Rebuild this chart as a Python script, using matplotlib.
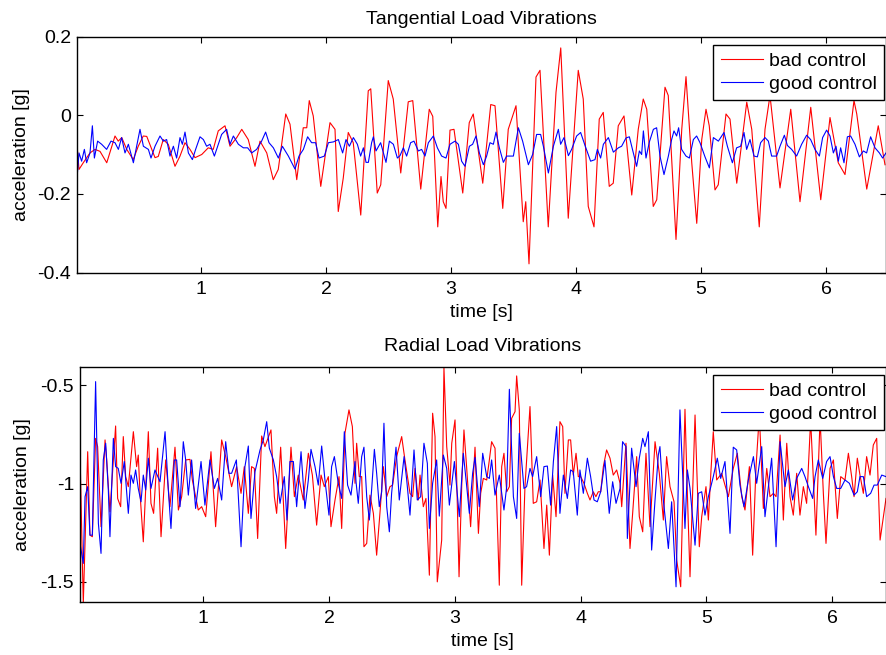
import matplotlib
matplotlib.use("Agg")
import matplotlib.pyplot as plt

plt.rcParams['font.family'] = ['Liberation Sans', 'DejaVu Sans']
plt.rcParams['font.size'] = 14
plt.rcParams['axes.unicode_minus'] = False

# ---- tangential load (time [s], acceleration [g]) ----
tang_bad_t = [0.006, 0.024, 0.058, 0.112, 0.152, 0.192, 0.246, 0.312, 0.338, 0.366,
              0.406, 0.458, 0.498, 0.538, 0.566, 0.632, 0.658, 0.698, 0.738, 0.792,
              0.832, 0.872, 0.912, 0.952, 1.006, 1.058, 1.098, 1.138, 1.192, 1.232,
              1.286, 1.326, 1.378, 1.432, 1.472, 1.526, 1.578, 1.618, 1.678, 1.712,
              1.766, 1.818, 1.846, 1.866, 1.898, 1.958, 2.032, 2.072, 2.098, 2.138,
              2.178, 2.218, 2.278, 2.338, 2.358, 2.410, 2.438, 2.498, 2.538, 2.598,
              2.658, 2.694, 2.758, 2.826, 2.854, 2.894, 2.920, 2.938, 2.960, 2.992,
              3.024, 3.094, 3.146, 3.178, 3.254, 3.318, 3.352, 3.414, 3.458, 3.520,
              3.578, 3.598, 3.624, 3.680, 3.712, 3.778, 3.840, 3.878, 3.938, 4.018,
              4.058, 4.098, 4.144, 4.186, 4.218, 4.266, 4.298, 4.338, 4.384, 4.446,
              4.498, 4.538, 4.566, 4.618, 4.646, 4.712, 4.738, 4.800, 4.846, 4.880,
              4.926, 4.966, 5.006, 5.040, 5.066, 5.112, 5.138, 5.200, 5.232, 5.286,
              5.366, 5.406, 5.466, 5.512, 5.552, 5.632, 5.718, 5.792, 5.878, 5.958,
              6.032, 6.098, 6.152, 6.224, 6.246, 6.326, 6.418, 6.472]
tang_bad = [-0.066, -0.138, -0.121, -0.096, -0.087, -0.092, -0.121, -0.053, -0.066, -0.057,
            -0.087, -0.113, -0.079, -0.053, -0.054, -0.108, -0.105, -0.062, -0.074, -0.130,
            -0.104, -0.070, -0.087, -0.108, -0.100, -0.083, -0.087, -0.040, -0.027, -0.079,
            -0.057, -0.036, -0.062, -0.130, -0.066, -0.096, -0.164, -0.138, 0.003, -0.023,
            -0.164, -0.032, -0.032, 0.037, -0.002, -0.181, -0.019, -0.036, -0.245, -0.160,
            -0.044, -0.070, -0.254, 0.062, 0.067, -0.198, -0.177, 0.088, 0.041, -0.147,
            0.034, 0.037, -0.188, 0.015, -0.003, -0.284, -0.156, -0.220, -0.237, -0.038,
            -0.036, -0.198, -0.019, 0.003, -0.173, 0.027, 0.024, -0.237, -0.036, 0.024,
            -0.271, -0.220, -0.378, 0.097, 0.114, -0.284, 0.058, 0.171, -0.262, 0.114,
            0.041, -0.232, -0.284, -0.010, 0.007, -0.181, -0.173, -0.027, -0.002, -0.203,
            -0.036, 0.041, 0.015, -0.232, -0.215, 0.071, 0.050, -0.316, -0.036, 0.098,
            -0.121, -0.275, -0.062, 0.015, -0.027, -0.190, -0.177, 0.003, -0.010, -0.173,
            0.033, -0.036, -0.284, -0.036, 0.050, -0.185, 0.015, -0.220, 0.020, -0.215,
            -0.006, -0.121, -0.151, 0.037, 0.003, -0.188, -0.027, -0.126]

tang_good_t = [0.005, 0.024, 0.045, 0.067, 0.085, 0.112, 0.131, 0.147, 0.173, 0.205,
               0.245, 0.280, 0.312, 0.339, 0.365, 0.392, 0.419, 0.459, 0.485, 0.512,
               0.539, 0.579, 0.600, 0.632, 0.672, 0.699, 0.725, 0.752, 0.779, 0.805,
               0.832, 0.851, 0.872, 0.899, 0.931, 0.957, 0.992, 1.019, 1.045, 1.072,
               1.107, 1.139, 1.165, 1.205, 1.232, 1.259, 1.299, 1.339, 1.373, 1.405,
               1.445, 1.485, 1.517, 1.544, 1.579, 1.619, 1.651, 1.699, 1.752, 1.784,
               1.819, 1.853, 1.885, 1.917, 1.944, 1.987, 2.019, 2.059, 2.099, 2.133,
               2.160, 2.187, 2.219, 2.251, 2.277, 2.299, 2.320, 2.339, 2.365, 2.379,
               2.400, 2.437, 2.480, 2.507, 2.539, 2.571, 2.592, 2.619, 2.645, 2.677,
               2.704, 2.739, 2.765, 2.792, 2.819, 2.859, 2.891, 2.925, 2.960, 2.992,
               3.032, 3.059, 3.085, 3.112, 3.147, 3.173, 3.200, 3.227, 3.259, 3.285,
               3.312, 3.339, 3.360, 3.387, 3.419, 3.445, 3.499, 3.539, 3.573, 3.619,
               3.653, 3.685, 3.717, 3.739, 3.779, 3.819, 3.859, 3.877, 3.904, 3.939,
               3.965, 4.005, 4.037, 4.072, 4.117, 4.152, 4.171, 4.197, 4.219, 4.259,
               4.299, 4.339, 4.365, 4.400, 4.427, 4.459, 4.485, 4.507, 4.525, 4.539,
               4.560, 4.587, 4.619, 4.645, 4.672, 4.704, 4.739, 4.765, 4.784, 4.805,
               4.821, 4.845, 4.880, 4.907, 4.939, 4.965, 4.992, 5.032, 5.067, 5.099,
               5.139, 5.184, 5.211, 5.251, 5.285, 5.317, 5.344, 5.365, 5.392, 5.424,
               5.451, 5.477, 5.512, 5.539, 5.565, 5.605, 5.632, 5.667, 5.691, 5.725,
               5.765, 5.805, 5.845, 5.877, 5.912, 5.947, 5.973, 6.005, 6.032, 6.059,
               6.080, 6.099, 6.117, 6.144, 6.171, 6.197, 6.232, 6.267, 6.299, 6.325,
               6.357, 6.392, 6.427, 6.453, 6.480]
tang_good = [-0.173, -0.096, -0.117, -0.087, -0.121, -0.096, -0.027, -0.109, -0.066, -0.074,
             -0.087, -0.066, -0.070, -0.087, -0.057, -0.096, -0.074, -0.121, -0.079, -0.036,
             -0.079, -0.087, -0.109, -0.079, -0.053, -0.066, -0.062, -0.104, -0.079, -0.109,
             -0.057, -0.074, -0.043, -0.096, -0.113, -0.087, -0.055, -0.062, -0.079, -0.074,
             -0.104, -0.074, -0.049, -0.036, -0.074, -0.053, -0.074, -0.083, -0.083, -0.096,
             -0.087, -0.066, -0.043, -0.070, -0.083, -0.109, -0.079, -0.104, -0.137, -0.104,
             -0.087, -0.055, -0.070, -0.070, -0.109, -0.104, -0.070, -0.068, -0.062, -0.096,
             -0.062, -0.079, -0.057, -0.074, -0.104, -0.083, -0.120, -0.120, -0.070, -0.055,
             -0.091, -0.070, -0.120, -0.066, -0.074, -0.109, -0.103, -0.083, -0.104, -0.070,
             -0.066, -0.091, -0.087, -0.104, -0.070, -0.053, -0.083, -0.104, -0.109, -0.074,
             -0.066, -0.074, -0.117, -0.130, -0.079, -0.074, -0.053, -0.096, -0.126, -0.104,
             -0.070, -0.074, -0.043, -0.083, -0.120, -0.104, -0.104, -0.032, -0.066, -0.126,
             -0.100, -0.049, -0.049, -0.079, -0.147, -0.079, -0.036, -0.074, -0.057, -0.103,
             -0.087, -0.053, -0.044, -0.077, -0.117, -0.113, -0.087, -0.109, -0.074, -0.057,
             -0.094, -0.083, -0.079, -0.058, -0.055, -0.096, -0.130, -0.091, -0.100, -0.040,
             -0.109, -0.068, -0.036, -0.032, -0.104, -0.151, -0.104, -0.062, -0.040, -0.053,
             -0.032, -0.087, -0.104, -0.109, -0.062, -0.053, -0.070, -0.106, -0.134, -0.057,
             -0.066, -0.044, -0.079, -0.121, -0.083, -0.079, -0.044, -0.087, -0.062, -0.104,
             -0.106, -0.070, -0.057, -0.066, -0.104, -0.104, -0.079, -0.051, -0.077, -0.087,
             -0.104, -0.074, -0.051, -0.062, -0.087, -0.104, -0.057, -0.038, -0.053, -0.096,
             -0.079, -0.117, -0.083, -0.121, -0.055, -0.053, -0.074, -0.106, -0.091, -0.096,
             -0.055, -0.083, -0.096, -0.109, -0.096]

# ---- radial load ----
rad_bad_t = [0.020, 0.046, 0.081, 0.099, 0.118, 0.144, 0.160, 0.187, 0.219, 0.232,
             0.258, 0.303, 0.319, 0.343, 0.364, 0.383, 0.404, 0.444, 0.470, 0.483,
             0.497, 0.523, 0.563, 0.584, 0.605, 0.637, 0.664, 0.701, 0.735, 0.775,
             0.802, 0.828, 0.860, 0.894, 0.913, 0.960, 0.987, 1.019, 1.061, 1.098,
             1.146, 1.178, 1.225, 1.265, 1.300, 1.326, 1.358, 1.384, 1.406, 1.432,
             1.464, 1.490, 1.538, 1.565, 1.583, 1.615, 1.655, 1.697, 1.724, 1.755,
             1.795, 1.835, 1.867, 1.901, 1.936, 1.962, 1.994, 2.015, 2.047, 2.079,
             2.100, 2.126, 2.158, 2.185, 2.206, 2.219, 2.240, 2.259, 2.277, 2.299,
             2.325, 2.352, 2.378, 2.405, 2.431, 2.458, 2.484, 2.505, 2.537, 2.577,
             2.603, 2.643, 2.664, 2.683, 2.709, 2.723, 2.749, 2.770, 2.797, 2.823,
             2.842, 2.860, 2.895, 2.913, 2.935, 2.961, 2.975, 3.001, 3.014, 3.033,
             3.054, 3.072, 3.093, 3.125, 3.160, 3.187, 3.205, 3.226, 3.253, 3.274,
             3.292, 3.319, 3.353, 3.372, 3.390, 3.412, 3.433, 3.451, 3.478, 3.491,
             3.512, 3.531, 3.557, 3.597, 3.623, 3.650, 3.677, 3.708, 3.730, 3.751,
             3.777, 3.804, 3.835, 3.857, 3.875, 3.902, 3.920, 3.941, 3.963, 3.981,
             4.000, 4.026, 4.053, 4.074, 4.100, 4.121, 4.140, 4.159, 4.180, 4.206,
             4.233, 4.259, 4.286, 4.313, 4.326, 4.360, 4.392, 4.413, 4.445, 4.466,
             4.493, 4.519, 4.551, 4.591, 4.625, 4.657, 4.683, 4.710, 4.742, 4.763,
             4.795, 4.829, 4.848, 4.869, 4.909, 4.943, 4.962, 4.996, 5.015, 5.036,
             5.054, 5.081, 5.121, 5.147, 5.174, 5.213, 5.245, 5.280, 5.306, 5.341,
             5.367, 5.394, 5.420, 5.452, 5.479, 5.505, 5.532, 5.553, 5.585, 5.611,
             5.638, 5.664, 5.690, 5.717, 5.743, 5.770, 5.796, 5.828, 5.870, 5.903,
             5.929, 5.950, 5.982, 6.009, 6.040, 6.067, 6.101, 6.128, 6.154, 6.173,
             6.199, 6.220, 6.247, 6.273, 6.300, 6.326, 6.353, 6.380, 6.427]
rad_bad = [-0.846, -1.611, -0.838, -1.263, -1.271, -0.770, -0.812, -1.220, -0.778, -0.880,
           -1.144, -0.707, -1.076, -1.118, -0.761, -0.965, -1.016, -0.736, -0.914, -0.855,
           -1.050, -1.297, -0.736, -1.101, -1.152, -0.820, -1.271, -0.880, -1.118, -0.815,
           -1.135, -1.067, -0.880, -0.877, -0.982, -1.135, -1.118, -1.169, -0.838, -1.220,
           -0.778, -0.863, -1.016, -0.914, -1.050, -0.914, -1.152, -0.914, -0.923, -1.280,
           -0.758, -0.812, -0.727, -1.067, -1.152, -0.815, -1.331, -0.815, -1.067, -0.957,
           -1.084, -0.846, -0.957, -1.212, -0.957, -1.016, -0.965, -1.220, -1.084, -0.965,
           -1.229, -0.744, -0.625, -0.710, -0.999, -0.795, -0.965, -0.965, -1.322, -1.305,
           -1.059, -1.152, -1.365, -1.144, -0.914, -1.067, -1.016, -1.008, -0.863, -0.761,
           -0.880, -1.050, -1.067, -0.923, -1.084, -0.957, -1.118, -1.076, -1.467, -0.642,
           -0.761, -1.501, -1.288, -0.410, -0.812, -1.008, -0.795, -0.676, -0.965, -1.475,
           -1.016, -0.727, -0.914, -1.220, -0.815, -1.254, -1.050, -0.974, -0.982, -0.880,
           -0.787, -0.820, -1.518, -0.914, -0.846, -1.042, -1.016, -0.668, -0.634, -0.452,
           -0.625, -1.518, -1.016, -0.608, -1.101, -1.093, -0.982, -1.331, -1.110, -1.365,
           -0.957, -1.169, -0.685, -0.710, -1.050, -0.778, -0.778, -0.957, -0.846, -0.965,
           -0.965, -0.999, -1.050, -1.084, -1.042, -1.067, -1.042, -1.042, -0.914, -0.829,
           -0.871, -0.957, -0.931, -0.999, -1.118, -0.795, -1.331, -1.152, -0.863, -1.169,
           -1.246, -0.846, -1.220, -0.787, -0.948, -1.186, -0.863, -1.016, -1.093, -1.390,
           -1.526, -0.622, -1.050, -1.475, -0.651, -1.322, -1.169, -1.016, -1.186, -0.931,
           -0.736, -0.982, -0.948, -1.008, -1.067, -0.923, -0.846, -1.067, -1.135, -0.914,
           -1.365, -0.914, -0.651, -1.127, -0.923, -1.067, -1.050, -1.067, -0.753, -1.186,
           -0.795, -1.067, -1.161, -0.948, -1.161, -1.016, -1.101, -0.676, -1.263, -0.668,
           -1.050, -1.305, -0.923, -0.880, -1.178, -0.965, -0.982, -0.846, -0.965, -1.067,
           -0.871, -0.957, -1.050, -0.863, -0.957, -0.804, -0.770, -1.288, -1.076]

rad_good_t = [0.020, 0.046, 0.060, 0.081, 0.099, 0.118, 0.144, 0.166, 0.187, 0.205,
              0.224, 0.245, 0.258, 0.285, 0.303, 0.324, 0.346, 0.372, 0.404, 0.425,
              0.444, 0.462, 0.483, 0.505, 0.523, 0.542, 0.563, 0.584, 0.616, 0.656,
              0.696, 0.722, 0.743, 0.770, 0.788, 0.815, 0.841, 0.860, 0.881, 0.907,
              0.939, 0.982, 1.013, 1.053, 1.088, 1.114, 1.146, 1.178, 1.204, 1.225,
              1.263, 1.300, 1.331, 1.358, 1.379, 1.411, 1.451, 1.477, 1.504, 1.525,
              1.557, 1.583, 1.610, 1.644, 1.665, 1.689, 1.716, 1.742, 1.777, 1.808,
              1.835, 1.856, 1.888, 1.914, 1.941, 1.967, 1.999, 2.020, 2.042, 2.073,
              2.100, 2.121, 2.147, 2.174, 2.206, 2.214, 2.232, 2.259, 2.277, 2.299,
              2.320, 2.338, 2.360, 2.378, 2.399, 2.418, 2.436, 2.458, 2.479, 2.497,
              2.532, 2.558, 2.596, 2.617, 2.643, 2.675, 2.701, 2.728, 2.754, 2.781,
              2.797, 2.823, 2.855, 2.876, 2.908, 2.935, 2.956, 2.996, 3.035, 3.067,
              3.093, 3.115, 3.141, 3.160, 3.194, 3.221, 3.253, 3.274, 3.292, 3.319,
              3.353, 3.390, 3.412, 3.433, 3.465, 3.491, 3.512, 3.549, 3.570, 3.597,
              3.618, 3.650, 3.682, 3.708, 3.735, 3.761, 3.783, 3.809, 3.835, 3.862,
              3.894, 3.920, 3.941, 3.973, 3.994, 4.021, 4.053, 4.079, 4.106, 4.132,
              4.159, 4.193, 4.227, 4.254, 4.281, 4.313, 4.333, 4.360, 4.371, 4.405,
              4.440, 4.466, 4.493, 4.511, 4.538, 4.564, 4.591, 4.617, 4.630, 4.657,
              4.697, 4.723, 4.758, 4.789, 4.829, 4.848, 4.869, 4.909, 4.935, 4.962,
              4.988, 5.015, 5.054, 5.086, 5.113, 5.147, 5.187, 5.213, 5.240, 5.266,
              5.298, 5.333, 5.373, 5.399, 5.439, 5.465, 5.492, 5.518, 5.553, 5.585,
              5.624, 5.651, 5.685, 5.717, 5.757, 5.783, 5.810, 5.844, 5.863, 5.889,
              5.924, 5.955, 5.982, 6.009, 6.035, 6.067, 6.101, 6.136, 6.173, 6.199,
              6.220, 6.247, 6.273, 6.305, 6.332, 6.358, 6.393, 6.427]
rad_good = [-1.305, -1.407, -1.067, -1.016, -1.263, -1.263, -0.481, -1.203, -1.356, -0.880,
            -0.795, -1.033, -1.271, -0.770, -0.914, -0.923, -0.999, -0.888, -1.152, -0.957,
            -0.999, -0.931, -1.025, -1.093, -0.957, -1.033, -0.871, -1.025, -0.931, -0.991,
            -0.736, -1.033, -1.229, -0.880, -0.880, -1.118, -0.787, -0.880, -1.059, -0.880,
            -1.127, -0.888, -1.110, -0.880, -1.025, -0.974, -1.084, -0.787, -0.948, -0.948,
            -0.880, -1.322, -0.914, -0.809, -1.178, -0.940, -0.829, -0.778, -0.685, -0.820,
            -0.880, -0.965, -1.101, -0.965, -1.186, -0.888, -0.888, -1.118, -0.838, -1.127,
            -0.982, -0.826, -0.914, -1.008, -0.809, -0.982, -1.161, -0.914, -0.863, -0.999,
            -1.076, -0.736, -1.008, -1.059, -0.888, -0.991, -1.101, -0.863, -0.815, -1.067,
            -1.186, -1.033, -0.826, -0.948, -1.118, -1.042, -0.693, -1.118, -1.246, -1.050,
            -0.815, -1.084, -0.863, -0.982, -1.161, -0.829, -1.084, -1.067, -0.795, -0.897,
            -1.229, -0.999, -0.880, -1.166, -0.855, -0.923, -1.110, -0.888, -1.169, -0.846,
            -1.008, -1.152, -0.948, -0.867, -1.118, -0.846, -0.965, -0.974, -0.880, -1.059,
            -0.957, -1.135, -1.016, -0.520, -1.067, -1.178, -0.744, -1.025, -1.016, -0.923,
            -0.965, -0.863, -1.067, -0.914, -0.911, -1.110, -0.888, -0.710, -1.152, -0.957,
            -1.076, -0.931, -0.940, -1.161, -0.931, -1.050, -0.871, -0.965, -1.084, -1.093,
            -1.042, -0.883, -1.152, -0.991, -1.101, -1.025, -0.787, -0.812, -1.280, -0.820,
            -1.016, -0.871, -0.770, -0.812, -0.736, -1.339, -1.084, -0.855, -0.812, -1.084,
            -1.331, -1.093, -1.526, -0.625, -1.229, -0.931, -1.025, -1.314, -1.050, -1.042,
            -1.161, -1.067, -0.965, -0.871, -0.974, -0.888, -1.254, -0.815, -0.829, -1.008,
            -1.118, -0.982, -0.863, -0.999, -0.812, -1.169, -1.016, -0.871, -1.322, -0.787,
            -1.016, -0.931, -1.084, -0.974, -0.923, -0.965, -1.016, -1.076, -0.965, -0.880,
            -0.974, -0.888, -0.863, -0.965, -1.025, -1.025, -0.982, -0.999, -1.059, -1.042,
            -0.965, -0.965, -1.067, -1.050, -1.008, -1.008, -0.957, -0.965]

x_ticks = [1, 2, 3, 4, 5, 6]
tang_yticks = [-0.4, -0.2, 0, 0.2]
tang_ylabels = ['-0.4', '-0.2', '0', '0.2']
rad_yticks = [-1.5, -1, -0.5]
rad_ylabels = ['-1.5', '-1', '-0.5']
series_names = ['bad control', 'good control']

W, H = 886, 655
fig = plt.figure(figsize=(W / 100, H / 100), dpi=100)


def add_axes_px(left, top, right, bottom):
    return fig.add_axes([left / W, 1 - bottom / H, (right - left) / W, (bottom - top) / H])


def style(ax, title, title_pad, ylabel_x):
    ax.set_title(title, fontsize=14, pad=title_pad)
    ax.set_xlabel('time [s]', labelpad=4.5)
    ax.set_ylabel('acceleration [g]')
    ax.yaxis.set_label_coords(ylabel_x, 0.5)
    ax.set_xticks(x_ticks)
    ax.tick_params(direction='in', length=4, width=0.8, top=True, right=True, labelsize=14)
    ax.tick_params(axis='x', pad=6)
    ax.tick_params(axis='y', pad=4)
    for sp in ax.spines.values():
        sp.set_linewidth(1.0)
    leg = ax.legend(series_names, loc='upper right', bbox_to_anchor=(0.998, 0.965),
                    borderaxespad=0, fancybox=False, edgecolor='black', framealpha=1,
                    handlelength=2.2, handletextpad=0.3, labelspacing=0.28, borderpad=0.38,
                    fontsize=14)
    leg.get_frame().set_linewidth(1.0)


# top: tangential
ax1 = add_axes_px(76.5, 36.5, 886, 272.5)
ax1.plot(tang_bad_t, tang_bad, color='red', lw=0.8)
ax1.plot(tang_good_t, tang_good, color='blue', lw=0.8)
ax1.set_xlim(0.004, 6.48)
ax1.set_ylim(-0.4, 0.2)
ax1.set_yticks(tang_yticks)
ax1.set_yticklabels(tang_ylabels)
style(ax1, 'Tangential Load Vibrations', 9, -0.057)

# bottom: radial
ax2 = add_axes_px(79.7, 366.7, 886, 601.7)
ax2.plot(rad_bad_t, rad_bad, color='red', lw=0.8)
ax2.plot(rad_good_t, rad_good, color='blue', lw=0.8)
ax2.set_xlim(0.0175, 6.427)
ax2.set_ylim(-1.602, -0.405)
ax2.set_yticks(rad_yticks)
ax2.set_yticklabels(rad_ylabels)
style(ax2, 'Radial Load Vibrations', 11.5, -0.061)

fig.savefig('out.png', dpi=100)
